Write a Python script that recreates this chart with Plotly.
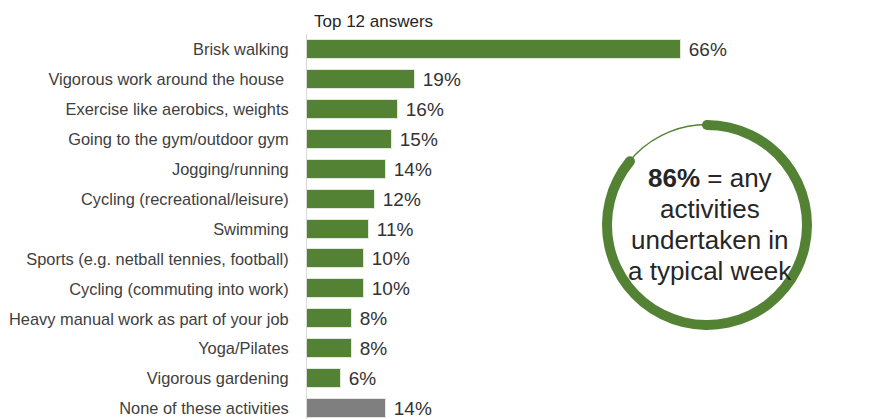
import math
import plotly.graph_objects as go

# Survey answers (top 12 + "none"), percent of respondents
activities = [
    "Brisk walking",
    "Vigorous work around the house ",
    "Exercise like aerobics, weights",
    "Going to the gym/outdoor gym",
    "Jogging/running",
    "Cycling (recreational/leisure)",
    "Swimming",
    "Sports (e.g. netball tennies, football)",
    "Cycling (commuting into work)",
    "Heavy manual work as part of your job",
    "Yoga/Pilates",
    "Vigorous gardening",
    "None of these activities",
]
shares = [66, 19, 16, 15, 14, 12, 11, 10, 10, 8, 8, 6, 14]
any_activity = 86

GREEN = "#548235"
GREY = "#7f7f7f"
FONT = "Liberation Sans"

bar_colors = [GREEN] * (len(activities) - 1) + [GREY]

W, H = 871, 419
M_L, M_R, M_T, M_B = 307, 54, 34, 0
PW, PH = W - M_L - M_R, H - M_T - M_B

fig = go.Figure()

fig.add_trace(go.Bar(
    x=shares,
    y=activities,
    orientation="h",
    width=0.635,
    marker=dict(color=bar_colors, line=dict(color="#e3e8df", width=1)),
    texttemplate="\u00a0%{x}%",
    textposition="outside",
    constraintext="none",
    cliponaxis=False,
    textfont=dict(family=FONT, size=19, color="#333333"),
    hoverinfo="skip",
))

# Ring showing the share doing any activity
cx, cy, r_out = 707, 225, 105
dom_x = [(cx - r_out - M_L) / PW, (cx + r_out - M_L) / PW]
dom_y = [(H - (cy + r_out)) / PH, (H - (cy - r_out)) / PH]

fig.add_trace(go.Pie(
    values=[any_activity, 100 - any_activity],
    marker=dict(colors=[GREEN, "rgba(0,0,0,0)"], line=dict(width=0)),
    hole=0.905,
    sort=False,
    direction="clockwise",
    rotation=0,
    textinfo="none",
    hoverinfo="skip",
    showlegend=False,
    domain=dict(x=dom_x, y=dom_y),
))

pcx = (cx - M_L) / PW
pcy = (H - cy) / PH
shapes = [
    # thin track for the remainder of the ring
    dict(type="circle", xref="paper", yref="paper", xsizemode="pixel", ysizemode="pixel",
         xanchor=pcx, yanchor=pcy, x0=-100.5, x1=100.5, y0=-100.5, y1=100.5,
         line=dict(color=GREEN, width=1.4), layer="below"),
]
# rounded caps at both ends of the thick arc
r_mid = 100
for frac in (0, any_activity / 100):
    ang = 2 * math.pi * frac
    px = r_mid * math.sin(ang)
    py = r_mid * math.cos(ang)
    shapes.append(dict(
        type="circle", xref="paper", yref="paper", xsizemode="pixel", ysizemode="pixel",
        xanchor=pcx, yanchor=pcy, x0=px - 5, x1=px + 5, y0=py - 5, y1=py + 5,
        fillcolor=GREEN, line=dict(width=0)))

ring_lines = [
    "<b>86%</b> = any",
    "activities",
    "undertaken in",
    "a typical week",
]
line_y = [178, 209, 240, 271]
annotations = []
for txt, ly in zip(ring_lines, line_y):
    annotations.append(dict(
        text=txt, xref="paper", yref="paper", x=(710 - M_L) / PW, y=(H - ly) / PH,
        xanchor="center", yanchor="middle", showarrow=False,
        font=dict(family=FONT, size=26, color="#262626")))

annotations.append(dict(
    text="Top 12 answers", xref="paper", yref="paper", x=(312 - M_L) / PW, y=(H - 21) / PH,
    xanchor="left", yanchor="middle", showarrow=False,
    font=dict(family=FONT, size=17, color="#262626")))

fig.update_layout(
    width=W, height=H,
    margin=dict(l=M_L, r=M_R, t=M_T, b=M_B, pad=0),
    paper_bgcolor="white", plot_bgcolor="white",
    showlegend=False,
    bargap=0,
    shapes=shapes,
    annotations=annotations,
    xaxis=dict(range=[0, 90], visible=False, fixedrange=True),
    yaxis=dict(
        type="category", range=[12.35, -0.52],
        showgrid=False, zeroline=False,
        showline=True, linecolor="#d9d9d9", linewidth=1,
        ticks="", ticklabelstandoff=14,
        tickfont=dict(family=FONT, size=16.4, color="#404040"),
        fixedrange=True,
    ),
)

fig.write_html("out.html")
